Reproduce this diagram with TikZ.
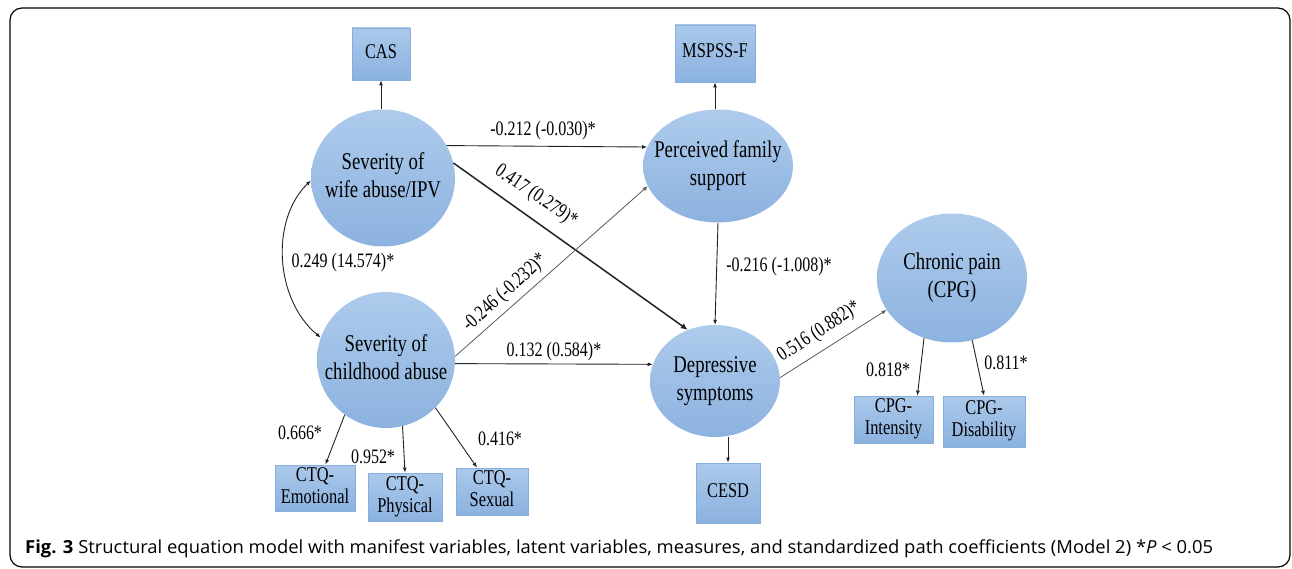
\documentclass[tikz,border=0pt]{standalone}
\usepackage{fontspec}
\usepackage{graphicx}
\setmainfont{Liberation Serif}
\newfontfamily\capfont{Open Sans}
\usetikzlibrary{shapes.geometric,arrows.meta}
\newcommand\lat[1]{\scalebox{0.78}[1]{\fontsize{24}{28}\selectfont\begin{tabular}{@{}c@{}}#1\end{tabular}}}
\newcommand\mbx[1]{\scalebox{0.78}[1]{\fontsize{21}{22}\selectfont\begin{tabular}{@{}c@{}}#1\end{tabular}}}
\newcommand\lab[1]{\scalebox{0.78}[1]{\fontsize{20.5}{22}\selectfont #1}}
\definecolor{ltop}{HTML}{AECBEC}
\definecolor{lbot}{HTML}{8CB2DF}
\definecolor{btop}{HTML}{ABC9EB}
\definecolor{bbot}{HTML}{8BB2DF}
\definecolor{bedge}{HTML}{86AEDC}
\definecolor{linec}{HTML}{222222}
\tikzset{
  latent/.style={ellipse, draw=none, top color=ltop, bottom color=lbot, inner sep=0pt},
  lattext/.style={inner sep=0pt},
  manif/.style={rectangle, draw=bedge, line width=0.8pt, top color=btop, bottom color=bbot, inner sep=0pt},
  arr/.style={draw=linec, line width=0.9pt, -{Latex[length=5pt,width=4pt]}},
  arrg/.style={draw=black!65, line width=0.8pt, -{Latex[length=5pt,width=4pt]}},
  arrb/.style={draw=linec, line width=1.5pt, -{Latex[length=7pt,width=6pt]}},
  coef/.style={inner sep=0pt}
}
\begin{document}
\begin{tikzpicture}[x=1pt,y=-1pt]
\useasboundingbox (0,0) rectangle (1292,569);
\draw[line width=1.2pt, rounded corners=12pt] (10,8) rectangle (1290,567);

% latent variables
\node[latent, minimum width=144pt, minimum height=137pt] (wife) at (383,178) {};
\node[latent, minimum width=138pt, minimum height=136pt] (child) at (386,360) {};
\node[latent, minimum width=150pt, minimum height=113pt] (perc) at (718,166) {};
\node[latent, minimum width=130pt, minimum height=112pt] (dep) at (715,381) {};
\node[latent, minimum width=150pt, minimum height=129pt] (pain) at (952,278) {};
\node[lattext] (wifeT) at (wife) {\lat{Severity of\\wife abuse/IPV}};
\node[lattext] (childT) at (child) {\lat{Severity of\\childhood abuse}};
\node[lattext] (percT) at (perc) {\lat{Perceived family\\support}};
\node[lattext] (depT) at (dep) {\lat{Depressive\\symptoms}};
\node[lattext] (painT) at (pain) {\lat{Chronic pain\\(CPG)}};

% manifest variables
\node[manif, minimum width=58pt, minimum height=52pt] (cas) at (381,54) {\mbx{CAS}};
\node[manif, minimum width=80pt, minimum height=57pt] (mspss) at (715,53.5) {\mbx{MSPSS-F}};
\node[manif, minimum width=64pt, minimum height=60pt] (cesd) at (728,493) {\mbx{CESD}};
\node[manif, minimum width=80pt, minimum height=46pt] (emo) at (315,488) {\mbx{CTQ-\\Emotional}};
\node[manif, minimum width=74pt, minimum height=48pt] (phy) at (405,497) {\mbx{CTQ-\\Physical}};
\node[manif, minimum width=72pt, minimum height=47pt] (sex) at (492,491.5) {\mbx{CTQ-\\Sexual}};
\node[manif, minimum width=79pt, minimum height=47pt] (int) at (893.5,419.5) {\mbx{CPG-\\Intensity}};
\node[manif, minimum width=82pt, minimum height=51pt] (dis) at (984,421.5) {\mbx{CPG-\\Disability}};

% measurement arrows
\draw[arr] (wife.north -| cas) -- (cas.south);
\draw[arr] (perc.north -| mspss) -- (mspss.south);
\draw[arr] (dep.south -| cesd) -- (cesd.north);
\draw[arr] (child.233) -- (emo.66);
\draw[arr] (child.284) -- (phy.north);
\draw[arr] (child.316) -- (sex.122);
\draw[arr] (pain.245) -- (int.45);
\draw[arr] (pain.288) -- (dis.north);

% structural paths
\draw[arr] (wife.27) -- (perc.165);
\draw[arrb] (wife.12) -- (dep.118);
\draw[arrg] (child.3) -- (perc.196);
\draw[arr] (child.-3) -- (dep.165);
\draw[arr] (perc.south) -- (dep.north);
\draw[arrg] (dep.3) -- (pain.206);
\draw[draw=linec, line width=0.9pt, {Latex[length=5pt,width=4pt]}-{Latex[length=5pt,width=4pt]}]
  (child.161) .. controls (275,300) and (270,220) .. (wife.182);

% coefficients
\node[coef] (c1) at (543,131) {\lab{-0.212 (-0.030)*}};
\node[coef, rotate=-34] (c2) at (536,196) {\lab{0.417 (0.279)*}};
\node[coef, rotate=42] (c3) at (505,293) {\lab{-0.246 (-0.232)*}};
\node[coef] (c4) at (343,263) {\lab{0.249 (14.574)*}};
\node[coef] (c5) at (554,352) {\lab{0.132 (0.584)*}};
\node[coef] (c6) at (779,267) {\lab{-0.216 (-1.008)*}};
\node[coef, rotate=33] (c7) at (819,332) {\lab{0.516 (0.882)*}};
\node[coef] (c8) at (300,433) {\lab{0.666*}};
\node[coef] (c9) at (373,457) {\lab{0.952*}};
\node[coef] (c10) at (500,439) {\lab{0.416*}};
\node[coef] (c11) at (888,370) {\lab{0.818*}};
\node[coef] (c12) at (1006,363) {\lab{0.811*}};

% caption
\node[anchor=west, inner sep=0pt] (cap) at (25,549) {\resizebox{1188pt}{\height}{\capfont\fontsize{18}{20}\selectfont\textbf{Fig. 3} Structural equation model with manifest variables, latent variables, measures, and standardized path coefficients (Model 2) *\textit{P} \textless{} 0.05}};
\end{tikzpicture}
\end{document}
